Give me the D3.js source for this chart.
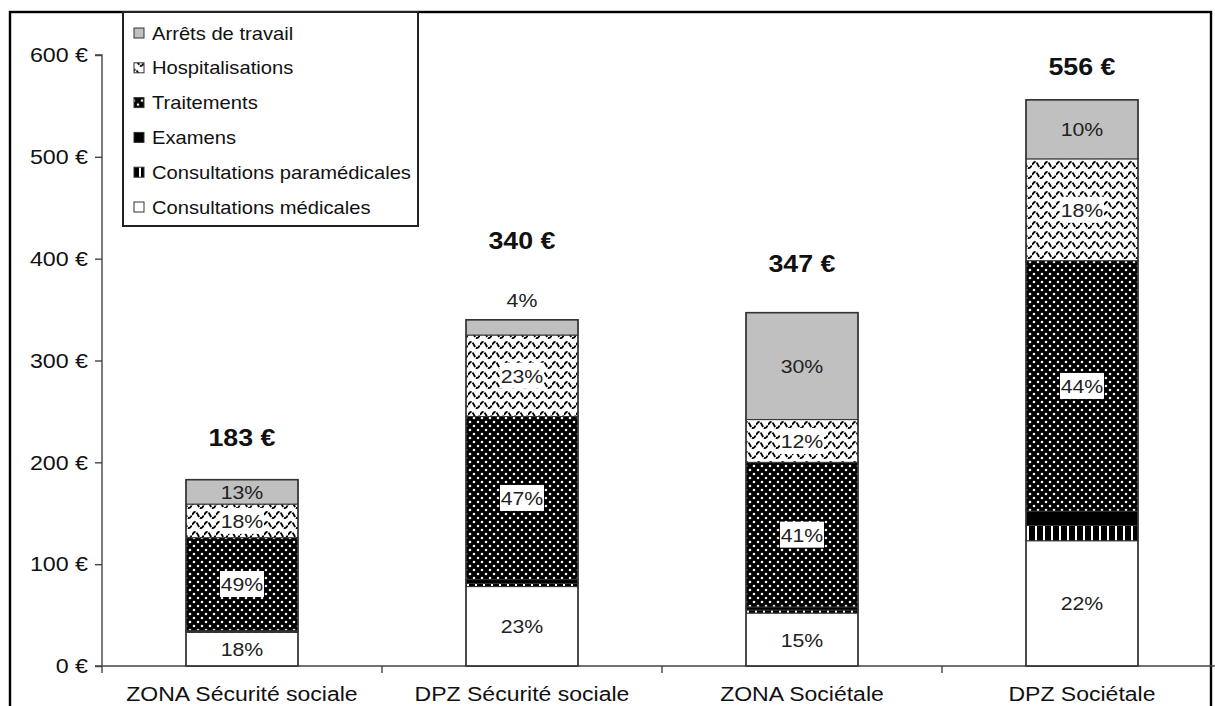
<!DOCTYPE html>
<meta charset="utf-8">
<script src="https://d3js.org/d3.v7.min.js"></script>
<style>
  body { margin: 0; background: #fff; }
  text { font-family: "Liberation Sans", Arial, sans-serif; }
</style>
<div id="chart"></div>
<script>

// ---- data ----
var categories = ["ZONA Sécurité sociale", "DPZ Sécurité sociale", "ZONA Sociétale", "DPZ Sociétale"];
var totals = [183, 340, 347, 556];

// series from bottom to top of each stack (euros)
var consultMed     = [33, 78, 52, 123];
var consultParamed = [1, 3, 3, 15];
var examens        = [1, 4, 3, 14];
var traitements    = [91, 160, 142, 246];
var hospit         = [33, 80, 42, 100];
var arrets         = [24, 15, 105, 58];

// percent labels as printed
var pctMed    = ["18%", "23%", "15%", "22%"];
var pctTrait  = ["49%", "47%", "41%", "44%"];
var pctHosp   = ["18%", "23%", "12%", "18%"];
var pctArrets = ["13%", "4%", "30%", "10%"];

var yTicks = [0, 100, 200, 300, 400, 500, 600];

// legend order (top to bottom)
var legendItems = ["Arrêts de travail", "Hospitalisations", "Traitements", "Examens",
                   "Consultations paramédicales", "Consultations médicales"];

// ---- layout ----
var W = 1215, H = 706;
var totalGap = [34, 71, 41, 25];           // distance of total label above bar
var pctNudge = {"1|arrets": -27};          // 4% sits above its thin segment

// the source picture is a bit wide: stretch glyphs horizontally
function stretch(sel, k) {
  sel.each(function() {
    var len = this.getComputedTextLength();
    d3.select(this).attr("textLength", len * k).attr("lengthAdjust", "spacingAndGlyphs");
  });
}

var svg = d3.select("#chart").append("svg")
  .attr("width", W).attr("height", H);

var defs = svg.append("defs");

// dotted black (Traitements)
var pDots = defs.append("pattern").attr("id", "dots")
  .attr("patternUnits", "userSpaceOnUse").attr("width", 8).attr("height", 8);
pDots.append("rect").attr("width", 8).attr("height", 8).attr("fill", "#000");
pDots.append("circle").attr("cx", 2).attr("cy", 2).attr("r", 1.3).attr("fill", "#f2f2f2");
pDots.append("circle").attr("cx", 6).attr("cy", 6).attr("r", 1.3).attr("fill", "#f2f2f2");

// waves (Hospitalisations)
var pWave = defs.append("pattern").attr("id", "wave")
  .attr("patternUnits", "userSpaceOnUse").attr("width", 12).attr("height", 10);
pWave.append("rect").attr("width", 12).attr("height", 10).attr("fill", "#fff");
pWave.append("path").attr("d", "M0,5 C2,1 4,1 6,5 S10,9 12,5")
  .attr("fill", "none").attr("stroke", "#000").attr("stroke-width", 1.8)
  .attr("stroke-dasharray", "5,1");

// vertical stripes (Consultations paramédicales)
var pStripe = defs.append("pattern").attr("id", "stripes")
  .attr("patternUnits", "userSpaceOnUse").attr("width", 8).attr("height", 8);
pStripe.append("rect").attr("width", 8).attr("height", 8).attr("fill", "#000");
pStripe.append("rect").attr("x", 3).attr("width", 2).attr("height", 8).attr("fill", "#fff");

var fills = {
  "Consultations médicales": "#fff",
  "Consultations paramédicales": "url(#stripes)",
  "Examens": "#000",
  "Traitements": "url(#dots)",
  "Hospitalisations": "url(#wave)",
  "Arrêts de travail": "#c0c0c0"
};

var seriesKeys = ["med", "paramed", "exam", "trait", "hosp", "arrets"];
var seriesNames = {
  med: "Consultations médicales", paramed: "Consultations paramédicales", exam: "Examens",
  trait: "Traitements", hosp: "Hospitalisations", arrets: "Arrêts de travail"
};
var pctLabels = {med: pctMed, trait: pctTrait, hosp: pctHosp, arrets: pctArrets};
var boxed = {trait: true, hosp: true};

var table = categories.map(function(c, i) {
  return {cat: c, i: i, med: consultMed[i], paramed: consultParamed[i], exam: examens[i],
          trait: traitements[i], hosp: hospit[i], arrets: arrets[i]};
});
var stacked = d3.stack().keys(seriesKeys)(table);

// ---- scales ----
var x = d3.scaleBand().domain(categories).range([102, 1222])
  .paddingInner(0.6).paddingOuter(0.3);
var y = d3.scaleLinear().domain([0, 600]).range([666, 55]);

// frame
svg.append("rect").attr("x", 10).attr("y", 12).attr("width", 1201).attr("height", 720)
  .attr("fill", "none").attr("stroke", "#000").attr("stroke-width", 2.4);

// y axis
var yAxis = svg.append("g").attr("transform", "translate(102,0)")
  .call(d3.axisLeft(y).tickValues(yTicks).tickSize(7).tickPadding(7)
    .tickFormat(function(d) { return d + " €"; }));
yAxis.selectAll("path, line").attr("stroke", "#444").attr("stroke-width", 1.4);
yAxis.select(".domain").attr("d", "M-7,55H0V666");
yAxis.selectAll("text").attr("font-size", 20).attr("fill", "#111").attr("dy", "0.34em")
  .style("font-family", "'Liberation Sans', Arial, sans-serif");
stretch(yAxis.selectAll("text"), 1.16);

// x axis line + boundary ticks
var xg = svg.append("g");
xg.append("line").attr("x1", 95).attr("x2", 1222).attr("y1", 666).attr("y2", 666)
  .attr("stroke", "#444").attr("stroke-width", 1.4);
var bounds = d3.range(categories.length).map(function(k) { return x.range()[0] + k * x.step(); });
xg.selectAll("line.tk").data(bounds).enter().append("line").attr("class", "tk")
  .attr("x1", function(d) { return d; }).attr("x2", function(d) { return d; })
  .attr("y1", 666).attr("y2", 673).attr("stroke", "#444").attr("stroke-width", 1.4);
var xl = xg.selectAll("text").data(categories).enter().append("text")
  .attr("x", function(d) { return x(d) + x.bandwidth() / 2; })
  .attr("y", 701).attr("text-anchor", "middle").attr("font-size", 20).attr("fill", "#111")
  .text(function(d) { return d; });
stretch(xl, 1.15);

// bars
var layers = svg.append("g").selectAll("g").data(stacked).enter().append("g");
layers.selectAll("rect").data(function(s) {
    return s.map(function(d) { return {key: s.key, d: d}; });
  }).enter().append("rect")
  .attr("x", function(o) { return x(o.d.data.cat); })
  .attr("width", x.bandwidth())
  .attr("y", function(o) { return y(o.d[1]); })
  .attr("height", function(o) { return y(o.d[0]) - y(o.d[1]); })
  .attr("fill", function(o) { return fills[seriesNames[o.key]]; })
  .attr("stroke", "#333").attr("stroke-width", 1);

// bar outlines
svg.append("g").selectAll("rect").data(table).enter().append("rect")
  .attr("x", function(d) { return x(d.cat); }).attr("width", x.bandwidth())
  .attr("y", function(d, i) { return y(totals[i]); })
  .attr("height", function(d, i) { return y(0) - y(totals[i]); })
  .attr("fill", "none").attr("stroke", "#333").attr("stroke-width", 1.5);

// percent labels
var lab = svg.append("g");
stacked.forEach(function(s) {
  var labels = pctLabels[s.key];
  if (!labels) return;
  s.forEach(function(d, i) {
    var cx = x(d.data.cat) + x.bandwidth() / 2;
    var cy = (y(d[0]) + y(d[1])) / 2 + (pctNudge[i + "|" + s.key] || 0);
    if (boxed[s.key]) {
      lab.append("rect").attr("x", cx - 22).attr("y", cy - 13).attr("width", 44).attr("height", 26)
        .attr("fill", "#fff");
    }
    var t = lab.append("text").attr("x", cx).attr("y", cy + 7).attr("text-anchor", "middle")
      .attr("font-size", 19).attr("fill", "#222").text(labels[i]);
    stretch(t, 1.12);
  });
});

// totals
var tt = svg.append("g").selectAll("text").data(totals).enter().append("text")
  .attr("x", function(d, i) { return x(categories[i]) + x.bandwidth() / 2; })
  .attr("y", function(d, i) { return y(d) - totalGap[i]; })
  .attr("text-anchor", "middle").attr("font-size", 23.5).attr("font-weight", "bold")
  .attr("fill", "#111").text(function(d) { return d + " €"; });
stretch(tt, 1.14);

// legend
var lg = svg.append("g");
lg.append("rect").attr("x", 123).attr("y", 12).attr("width", 295).attr("height", 214)
  .attr("fill", "#fff").attr("stroke", "#222").attr("stroke-width", 2);
var li = lg.selectAll("g.it").data(legendItems).enter().append("g").attr("class", "it")
  .attr("transform", function(d, i) { return "translate(0," + (33 + i * 34.8) + ")"; });
li.append("rect").attr("x", 134).attr("y", -5).attr("width", 10).attr("height", 10)
  .attr("fill", function(d) { return fills[d]; }).attr("stroke", "#333").attr("stroke-width", 1);
var ltx = li.append("text").attr("x", 152).attr("y", 6.5).attr("font-size", 18.5).attr("fill", "#111")
  .text(function(d) { return d; });
stretch(ltx, 1.09);

</script>
